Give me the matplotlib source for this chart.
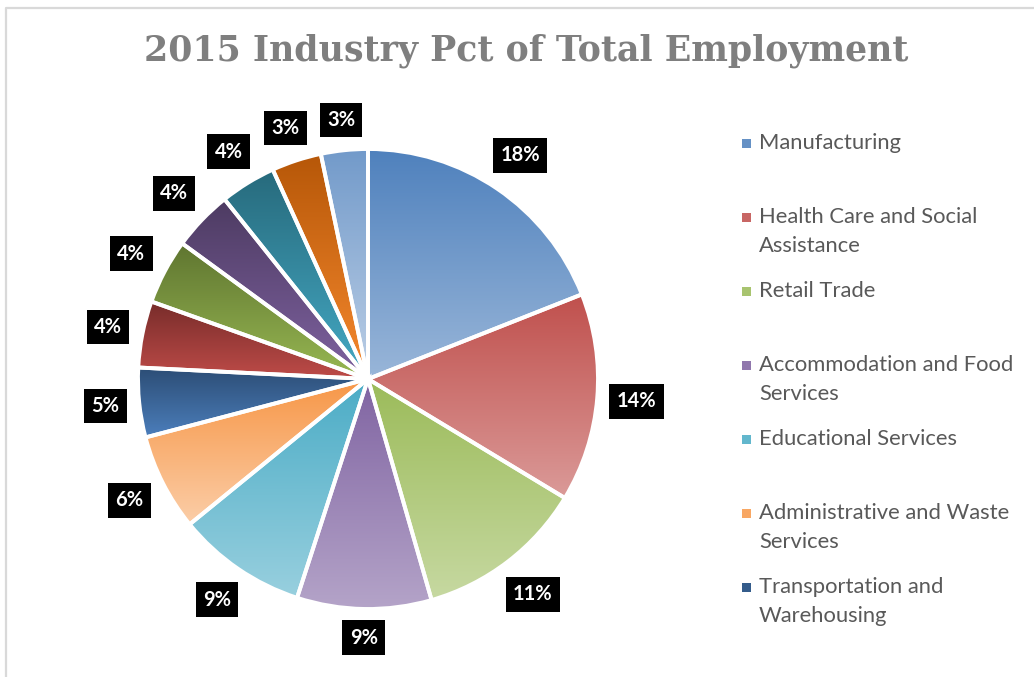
import colorsys
import textwrap

import matplotlib
matplotlib.use("Agg")
import matplotlib.pyplot as plt
import matplotlib.colors as mcolors
from matplotlib.lines import Line2D
from matplotlib.patches import Rectangle
import numpy as np

W, H = 1034, 677

TITLE = "2015 Industry Pct of Total Employment"

# only the first 7 legend entries are visible in the (cropped) chart
industries = [
    "Manufacturing",
    "Health Care and Social Assistance",
    "Retail Trade",
    "Accommodation and Food Services",
    "Educational Services",
    "Administrative and Waste Services",
    "Transportation and Warehousing",
]

# pct of total employment, one per slice (clockwise from 12 o'clock)
pct = [17.9, 13.8, 11.2, 8.9, 8.6, 6.4, 4.6, 4.4, 4.3, 4.0, 3.7, 3.3, 3.1]

slice_colors = [
    "#4F81BD", "#C0504D", "#9BBB59", "#8064A2", "#4BACC6", "#F79646",
    "#2C4D75", "#772C2A", "#5F7530", "#4D3B62", "#276A7C", "#B65708",
    "#729ACA",
]


def lighten(c, amount):
    r, g, b = mcolors.to_rgb(c)
    h, l, s = colorsys.rgb_to_hls(r, g, b)
    return colorsys.hls_to_rgb(h, min(1.0, l + amount), s)


def vertical_gradient(c, n=256, amount=0.2):
    top = np.array(mcolors.to_rgb(c))
    bot = np.array(lighten(c, amount))
    t = np.linspace(0, 1, n)[:, None]
    img = top * (1 - t) + bot * t
    return img[:, None, :]


fig = plt.figure(figsize=(W / 100, H / 100), dpi=100)
fig.patch.set_facecolor("white")

# pie: centre (368, 379) px, radius 230 px
cx, cy, r = 368, 379, 230
ax = fig.add_axes([(cx - r) / W, (H - cy - r) / H, 2 * r / W, 2 * r / H])

wedges, _ = ax.pie(
    pct, startangle=90, counterclock=False, radius=1,
    wedgeprops=dict(edgecolor="white", linewidth=2.8),
)

labels = []
for w, c, v in zip(wedges, slice_colors, pct):
    verts = w.get_path().vertices
    x0, x1 = verts[:, 0].min(), verts[:, 0].max()
    y0, y1 = verts[:, 1].min(), verts[:, 1].max()
    im = ax.imshow(vertical_gradient(c), extent=(x0, x1, y0, y1),
                   aspect="auto", interpolation="bilinear", zorder=1)
    im.set_clip_path(w)
    w.set_facecolor("none")
    w.set_zorder(2)

    t = ax.text(0, 0, f"{v:.0f}%", ha="center", va="center", color="white",
                fontsize=14.5, fontweight="bold", family="Lato", clip_on=False,
                zorder=5, bbox=dict(boxstyle="square,pad=0.36", fc="black", ec="none"))
    labels.append((w, t))

ax.set_xlim(-1, 1)
ax.set_ylim(-1, 1)
ax.set_aspect("equal")
ax.axis("off")

# push each label box out so its nearest edge sits a fixed gap off the rim
gap_px = 11
fig.canvas.draw()
for w, t in labels:
    bb = t.get_bbox_patch().get_window_extent()
    a, b = bb.width / 2, bb.height / 2
    mid = np.deg2rad((w.theta1 + w.theta2) / 2)
    support = a * abs(np.cos(mid)) + b * abs(np.sin(mid))
    rr = (r + gap_px + support) / r
    t.set_position((rr * np.cos(mid), rr * np.sin(mid)))

# title
fig.text(526 / W, 1 - 51 / H, TITLE, ha="center", va="center",
         fontsize=25, fontweight="bold", family="DejaVu Serif", color="#7F7F7F")

# legend (drawn by hand so that wrapped names line up like the original)
for i, (name, c) in enumerate(zip(industries, slice_colors)):
    ypx = 143 + 74 * i
    fig.patches.append(Rectangle((742 / W, 1 - (ypx + 5) / H), 9 / W, 9 / H,
                                 transform=fig.transFigure, fc=lighten(c, 0.06),
                                 ec="none"))
    for j, line in enumerate(textwrap.wrap(name, 24)):
        fig.text(759 / W, 1 - (ypx + 29 * j) / H, line, ha="left", va="center",
                 fontsize=15.8, family="Lato", color="#595959")

# chart-area frame (only left and top edges are inside the crop)
fig.add_artist(Line2D([6 / W, 6 / W, 1], [0, 1 - 8 / H, 1 - 8 / H],
                      transform=fig.transFigure, color="#D9D9D9", lw=1.6))

fig.savefig("out.png", dpi=100)
